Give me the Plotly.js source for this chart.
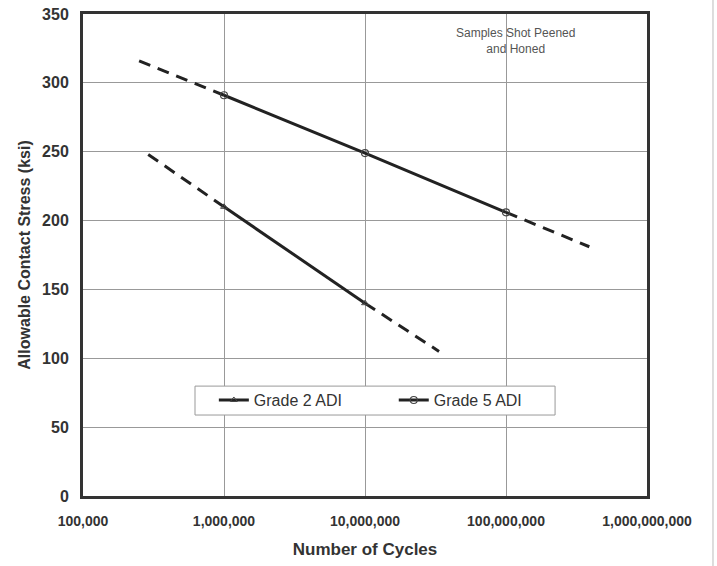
<!DOCTYPE html>
<html>
<head>
<meta charset="utf-8">
<script src="https://cdn.plot.ly/plotly-3.0.1.min.js"></script>
<style>
html,body{margin:0;padding:0;background:#fff;}
#chart{width:717px;height:566px;}
</style>
</head>
<body>
<div id="chart"></div>
<script>
// Data
const grade2Cycles = [1e6, 1e7];
const grade2Stress = [210, 140];
const grade5Cycles = [1e6, 1e7, 1e8];
const grade5Stress = [291, 249, 206];
// Dashed extrapolations (start -> first point, last point -> end)
const grade2DashCycles = [2.9e5, 1e6, null, 1e7, 3.35e7];
const grade2DashStress = [248, 210, null, 140, 105];
const grade5DashCycles = [2.5e5, 1e6, null, 1e8, 3.9e8];
const grade5DashStress = [316, 291, null, 206, 181];
const xTickVals = [1e5, 1e6, 1e7, 1e8, 1e9];
const xTickText = ["100,000", "1,000,000", "10,000,000", "100,000,000", "1,000,000,000"];
const seriesNames = ["Grade 2 ADI", "Grade 5 ADI"];

const lineColor = "#222";
const fontFam = "Liberation Sans, Arial, sans-serif";

const traces = [
  {x: grade2DashCycles, y: grade2DashStress, mode: "lines", showlegend: false, hoverinfo: "skip",
   line: {color: lineColor, width: 3, dash: "12px,8px"}, connectgaps: false},
  {x: grade5DashCycles, y: grade5DashStress, mode: "lines", showlegend: false, hoverinfo: "skip",
   line: {color: lineColor, width: 3, dash: "12px,8px"}, connectgaps: false},
  {x: grade2Cycles, y: grade2Stress, mode: "lines+markers", name: seriesNames[0], legend: "legend",
   line: {color: lineColor, width: 3},
   marker: {symbol: "triangle-up-open", size: 6, color: "#444", line: {width: 1}}},
  {x: grade5Cycles, y: grade5Stress, mode: "lines+markers", name: seriesNames[1], legend: "legend2",
   line: {color: lineColor, width: 3},
   marker: {symbol: "circle-open", size: 7, color: "#444", line: {width: 1.2}}}
];

const legendCommon = {
  orientation: "h", xanchor: "left", yanchor: "middle", y: 0.199,
  bgcolor: "rgba(0,0,0,0)", borderwidth: 0,
  font: {size: 16, color: "#333", family: fontFam}
};

const layout = {
  width: 717, height: 566,
  margin: {l: 83, r: 70, t: 14, b: 70},
  paper_bgcolor: "#fff", plot_bgcolor: "#fff",
  font: {family: fontFam, color: "#333"},
  showlegend: true,
  legend: Object.assign({}, legendCommon, {x: 0.232}),
  legend2: Object.assign({}, legendCommon, {x: 0.551}),
  xaxis: {
    type: "log", range: [5, 9],
    tickvals: xTickVals, ticktext: xTickText,
    showgrid: true, gridcolor: "#999", gridwidth: 1,
    showline: true, linecolor: "#333", linewidth: 3, mirror: true,
    ticks: "", zeroline: false, ticklabelstandoff: 10,
    tickfont: {size: 14, family: fontFam, color: "#333", weight: "bold"},
    title: {text: "Number of Cycles", font: {size: 17, family: fontFam, color: "#333", weight: "bold"}, standoff: 16}
  },
  yaxis: {
    range: [0, 350], dtick: 50,
    showgrid: true, gridcolor: "#999", gridwidth: 1,
    showline: true, linecolor: "#333", linewidth: 3, mirror: true,
    ticks: "", zeroline: false, ticklabelstandoff: 8,
    tickfont: {size: 16, family: fontFam, color: "#333", weight: "bold"},
    title: {text: "Allowable Contact Stress (ksi)", font: {size: 16, family: fontFam, color: "#333", weight: "bold"}, standoff: 8}
  },
  annotations: [{
    xref: "paper", yref: "paper", x: 0.766, y: 0.98, xanchor: "center", yanchor: "top",
    text: "Samples Shot Peened<br>and Honed", showarrow: false,
    font: {size: 12, color: "#555", family: fontFam}
  }],
  shapes: [
    {
      type: "rect", xref: "paper", yref: "paper", layer: "above",
      x0: 0.1986, x1: 0.837, y0: 0.168, y1: 0.228,
      fillcolor: "#fff", line: {color: "#999", width: 1}
    },
    {
      type: "line", xref: "paper", yref: "paper",
      x0: 1.117, x1: 1.117, y0: 1.03, y1: -0.15,
      line: {color: "#bbb", width: 1}
    }
  ]
};

Plotly.newPlot("chart", traces, layout, {displayModeBar: false, staticPlot: true});
</script>
</body>
</html>
